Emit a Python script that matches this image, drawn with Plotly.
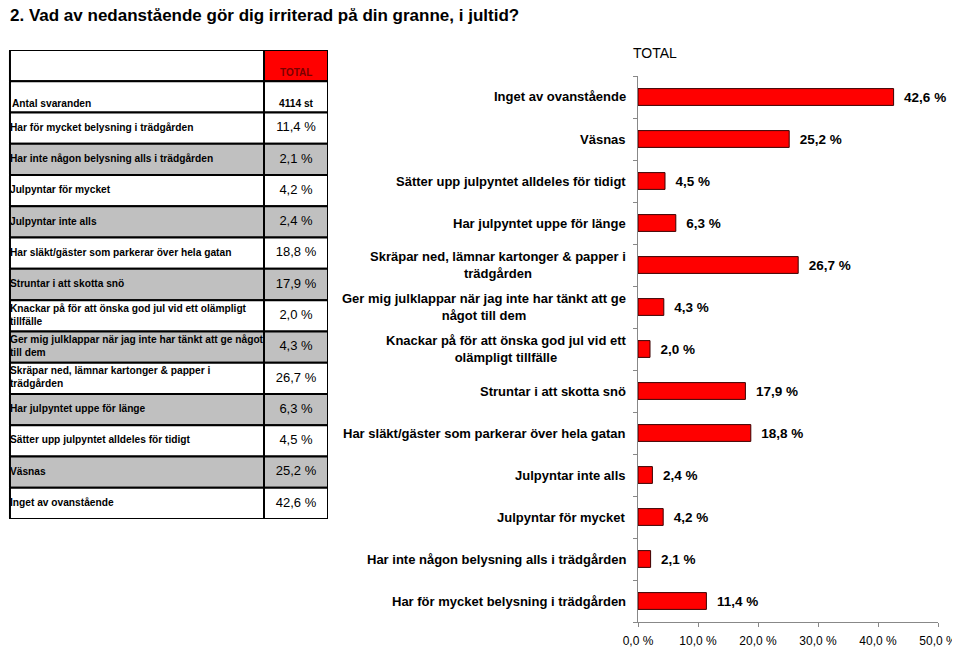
import plotly.graph_objects as go

# Svarsalternativ i tabellens ordning (nederst i stapeldiagrammet först)
kategorier = [
    "Har för mycket belysning i trädgården",
    "Har inte någon belysning alls i trädgården",
    "Julpyntar för mycket",
    "Julpyntar inte alls",
    "Har släkt/gäster som parkerar över hela gatan",
    "Struntar i att skotta snö",
    "Knackar på för att önska god jul vid ett olämpligt tillfälle",
    "Ger mig julklappar när jag inte har tänkt att ge något till dem",
    "Skräpar ned, lämnar kartonger & papper i trädgården",
    "Har julpyntet uppe för länge",
    "Sätter upp julpyntet alldeles för tidigt",
    "Väsnas",
    "Inget av ovanstående",
]
andel = [11.4, 2.1, 4.2, 2.4, 18.8, 17.9, 2.0, 4.3, 26.7, 6.3, 4.5, 25.2, 42.6]

# Radbrytningar så som i diagrammet respektive tabellen
diagram_etiketter = [
    "Har för mycket belysning i trädgården",
    "Har inte någon belysning alls i trädgården",
    "Julpyntar för mycket",
    "Julpyntar inte alls",
    "Har släkt/gäster som parkerar över hela gatan",
    "Struntar i att skotta snö",
    "Knackar på för att önska god jul vid ett<br>olämpligt tillfälle",
    "Ger mig julklappar när jag inte har tänkt att ge<br>något till dem",
    "Skräpar ned, lämnar kartonger & papper i<br>trädgården",
    "Har julpyntet uppe för länge",
    "Sätter upp julpyntet alldeles för tidigt",
    "Väsnas",
    "Inget av ovanstående",
]
tabell_etiketter = [
    "Har för mycket belysning i trädgården",
    "Har inte någon belysning alls i trädgården",
    "Julpyntar för mycket",
    "Julpyntar inte alls",
    "Har släkt/gäster som parkerar över hela gatan",
    "Struntar i att skotta snö",
    "Knackar på för att önska god jul vid ett olämpligt<br>tillfälle",
    "Ger mig julklappar när jag inte har tänkt att ge något<br>till dem",
    "Skräpar ned, lämnar kartonger & papper i<br>trädgården",
    "Har julpyntet uppe för länge",
    "Sätter upp julpyntet alldeles för tidigt",
    "Väsnas",
    "Inget av ovanstående",
]
antal_svarande = "4114 st"
x_ticks = [0, 10, 20, 30, 40, 50]
x_ticktext = ["0,0 %", "10,0 %", "20,0 %", "30,0 %", "40,0 %", "50,0 %"]

# Sidan har 8 px marginal runt figuren, så figuren görs lika mycket mindre
W, H = 960, 649
OFF = 8
FW, FH = W - OFF, H - OFF


def px(x):
    return max(x - OFF, 0) / FW


def py(y):
    return 1 - (y - OFF) / FH


SANS = "Liberation Sans, Arial, sans-serif"

# Tabellens kolumnbredder (i tabellaxelns enheter) och radantal
kol_bredd = [258, 65]
n_rader = len(andel) + 2  # rubrikrad + antal svarande + svarsalternativ
gra = "#c0c0c0"

fig = go.Figure()


# --- Tabellen till vänster, ritad på egna axlar (x2/y2) ---
def cell(rad, kol, farg):
    x0 = sum(kol_bredd[:kol])
    fig.add_shape(
        type="rect", xref="x2", yref="y2",
        x0=x0, x1=x0 + kol_bredd[kol], y0=rad, y1=rad + 1,
        fillcolor=farg, line=dict(color="black", width=2), layer="below",
    )


cell(0, 0, "white")
cell(0, 1, "#ff0000")
cell(1, 0, "white")
cell(1, 1, "white")
for i in range(len(andel)):
    rad = i + 2
    farg = gra if rad % 2 == 1 else "white"
    cell(rad, 0, farg)
    cell(rad, 1, farg)

mitt_varde = kol_bredd[0] + kol_bredd[1] / 2

fig.add_annotation(
    x=mitt_varde, y=0.72, xref="x2", yref="y2", text="<b>TOTAL</b>",
    showarrow=False, font=dict(family=SANS, size=10, color="#7a0000"),
)
fig.add_annotation(
    x=0, y=1.72, xref="x2", yref="y2", text="<b>Antal svaranden</b>",
    xanchor="left", showarrow=False, font=dict(family=SANS, size=10.2, color="black"),
)
fig.add_annotation(
    x=mitt_varde, y=1.72, xref="x2", yref="y2", text=f"<b>{antal_svarande}</b>",
    showarrow=False, font=dict(family=SANS, size=10.2, color="black"),
)

fig.add_trace(
    go.Scatter(
        x=[0] * len(tabell_etiketter),
        y=[i + 2.5 for i in range(len(tabell_etiketter))],
        text=[f"<b>{t}</b>" for t in tabell_etiketter],
        mode="text",
        textposition="middle right",
        textfont=dict(family=SANS, size=10.2, color="black"),
        xaxis="x2",
        yaxis="y2",
        hoverinfo="skip",
    )
)
fig.add_trace(
    go.Scatter(
        x=[mitt_varde] * len(andel),
        y=[i + 2.5 for i in range(len(andel))],
        text=[f"{v:.1f} %".replace(".", ",") for v in andel],
        mode="text",
        textposition="middle center",
        textfont=dict(family=SANS, size=13, color="black"),
        xaxis="x2",
        yaxis="y2",
        hoverinfo="skip",
    )
)

# --- Stapeldiagrammet till höger ---
fig.add_trace(
    go.Bar(
        x=andel,
        y=kategorier,
        orientation="h",
        width=0.4,
        marker=dict(color="#ff0000", line=dict(color="#3a0000", width=1)),
        texttemplate="<b>  %{x:.1f} %</b>",
        textposition="outside",
        textfont=dict(family=SANS, size=13.5, color="black"),
        cliponaxis=False,
        hoverinfo="skip",
    )
)

for kat, etikett in zip(kategorier, diagram_etiketter):
    fig.add_annotation(
        x=0, y=kat, xref="x", yref="y",
        text=f"<b>{etikett}</b>",
        xanchor="right", align="center", xshift=-10, showarrow=False,
        font=dict(family=SANS, size=13, color="black"),
    )

fig.add_annotation(
    x=px(5), y=1, xref="paper", yref="paper",
    text="<b>2. Vad av nedanstående gör dig irriterad på din granne, i jultid?</b>",
    xanchor="left", yanchor="top", yshift=4, showarrow=False,
    font=dict(family=SANS, size=17, color="black"),
)
fig.add_annotation(
    x=px(655), y=py(53), xref="paper", yref="paper",
    text="TOTAL", xanchor="center", yanchor="middle", showarrow=False,
    font=dict(family=SANS, size=14, color="black"),
)

fig.update_layout(
    width=FW,
    height=FH,
    margin=dict(l=0, r=0, t=0, b=0, autoexpand=False),
    paper_bgcolor="white",
    plot_bgcolor="rgba(0,0,0,0)",
    showlegend=False,
    separators=", ",
    xaxis=dict(
        domain=[px(638), px(938)],
        range=[0, 50],
        tickvals=x_ticks,
        ticktext=x_ticktext,
        ticks="outside",
        ticklen=4,
        ticklabelstandoff=4,
        tickcolor="#888888",
        showline=True,
        linecolor="#888888",
        showgrid=False,
        zeroline=False,
        fixedrange=True,
        tickfont=dict(family=SANS, size=12, color="black"),
    ),
    yaxis=dict(
        domain=[py(622), py(76)],
        categoryorder="array",
        categoryarray=kategorier,
        showticklabels=False,
        ticks="outside",
        tickson="boundaries",
        ticklen=4,
        tickcolor="#888888",
        showline=True,
        linecolor="#888888",
        showgrid=False,
        zeroline=False,
        fixedrange=True,
    ),
    xaxis2=dict(
        domain=[px(5), px(328)],
        range=[-2, sum(kol_bredd)],
        anchor="y2",
        visible=False,
        fixedrange=True,
    ),
    yaxis2=dict(
        domain=[py(519), py(50)],
        range=[n_rader, 0],
        anchor="x2",
        visible=False,
        fixedrange=True,
    ),
)

fig.write_html("out.html")
